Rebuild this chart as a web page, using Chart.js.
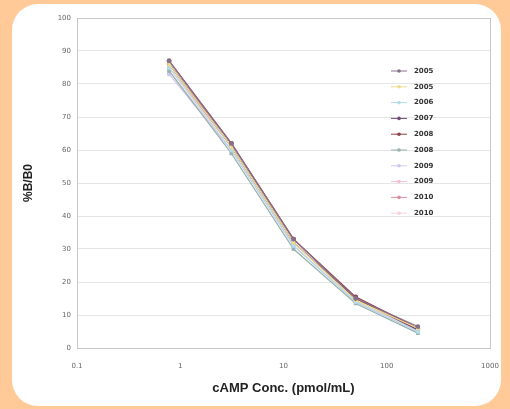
<!DOCTYPE html>
<html>
<head>
<meta charset="utf-8">
<script src="https://cdn.jsdelivr.net/npm/chart.js@4/dist/chart.umd.min.js"></script>
<style>
  html, body { margin: 0; padding: 0; }
  body { width: 510px; height: 409px; background: #ffc998; position: relative; overflow: hidden; }
  .card { position: absolute; left: 12px; top: 4px; width: 489px; height: 402px; background: #fff; border-radius: 26px; }
  #wrap { position: absolute; left: 0; top: 0; width: 510px; height: 409px; }
</style>
</head>
<body>
<div class="card"></div>
<div id="wrap"><canvas id="c" width="510" height="409"></canvas></div>
<script>
// 濃度 (pmol/mL) と各年の %B/B0
var conc = [0.78, 3.125, 12.5, 50, 200];
var years = ["2005", "2005", "2006", "2007", "2008", "2008", "2009", "2009", "2010", "2010"];
var s1 = [87, 62, 33, 15, 6.5];
var s2 = [86, 61, 32, 14.5, 6];
var s3 = [85, 60, 31, 14, 5];
var s4 = [86, 61, 32, 15, 5.5];
var s5 = [87, 62, 33, 15.5, 6];
var s6 = [84, 59, 30, 13.5, 4.5];
var s7 = [83, 60, 31, 14, 5];
var s8 = [85, 61, 32, 14.5, 5.5];
var s9 = [86, 62, 33, 15, 6];
var s10 = [84, 60, 31, 14, 5];
var series = [s1, s2, s3, s4, s5, s6, s7, s8, s9, s10];
var colors = ["#86708a", "#efdc8c", "#b4dce8", "#6e4a72", "#8e3f4c",
              "#98b0b0", "#cfc8ee", "#f2c0cc", "#d8909c", "#f4d2da"];
var xTicks = [0.1, 1, 10, 100, 1000];

var datasets = series.map(function (vals, i) {
  return {
    label: years[i],
    data: vals.map(function (v, j) { return { x: conc[j], y: v }; }),
    borderColor: colors[i],
    backgroundColor: colors[i],
    borderWidth: 1.2,
    pointRadius: 1.8,
    pointStyle: i % 2 ? "rect" : "circle"
  };
});

// 枠線と凡例 (プロット内右上) を描く
var frame = {
  id: "frame",
  afterDraw: function (chart) {
    var ctx = chart.ctx, a = chart.chartArea;
    ctx.save();
    ctx.strokeStyle = "#c8c8c8";
    ctx.lineWidth = 1;
    ctx.strokeRect(a.left + 0.5, a.top + 0.5, a.right - a.left, a.bottom - a.top);
    ctx.font = "bold 7px 'DejaVu Sans'";
    ctx.textBaseline = "middle";
    years.forEach(function (y, i) {
      var yy = 71 + i * 15.8;
      ctx.strokeStyle = colors[i];
      ctx.beginPath(); ctx.moveTo(391, yy); ctx.lineTo(407, yy); ctx.stroke();
      ctx.fillStyle = colors[i];
      ctx.beginPath(); ctx.arc(399, yy, 1.8, 0, Math.PI * 2); ctx.fill();
      ctx.fillStyle = "#333";
      ctx.fillText(y, 414, yy);
    });
    ctx.restore();
  }
};

new Chart(document.getElementById("c"), {
  type: "line",
  data: { datasets: datasets },
  plugins: [frame],
  options: {
    responsive: false,
    animation: false,
    layout: { padding: { left: 17, top: 18, right: 20, bottom: 9 } },
    plugins: { legend: { display: false }, tooltip: { enabled: false } },
    scales: {
      x: {
        type: "logarithmic",
        min: 0.1, max: 1000,
        afterBuildTicks: function (s) { s.ticks = xTicks.map(function (v) { return { value: v }; }); },
        afterFit: function (s) { s.height = 52; },
        ticks: {
          color: "#666", font: { size: 7, family: "DejaVu Sans" }, padding: 6,
          callback: function (v) { return String(v); }
        },
        grid: { display: false },
        border: { color: "#c8c8c8" },
        title: {
          display: true, text: "cAMP Conc. (pmol/mL)", color: "#222",
          font: { size: 13, weight: "bold", family: "Liberation Sans" }, padding: { top: 4 }
        }
      },
      y: {
        min: 0, max: 100,
        afterFit: function (s) { s.width = 60; },
        ticks: { stepSize: 10, color: "#666", font: { size: 7, family: "DejaVu Sans" }, padding: 6 },
        grid: { color: "#e6e6e6", drawTicks: false },
        border: { color: "#c8c8c8" },
        title: {
          display: true, text: "%B/B0", color: "#222",
          font: { size: 12, weight: "bold", family: "Liberation Sans" }, padding: { bottom: 4 }
        }
      }
    }
  }
});
</script>
</body>
</html>
